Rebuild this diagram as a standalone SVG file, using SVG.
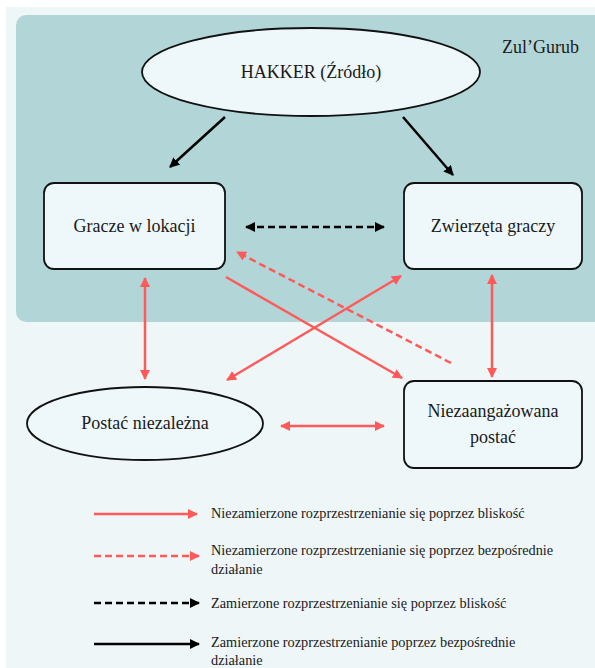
<svg xmlns="http://www.w3.org/2000/svg" width="595" height="668" viewBox="0 0 595 668">
<style>
text{font-family:'Liberation Serif','DejaVu Serif',serif;fill:#1a1a1a}
.n{font-size:18px;text-anchor:middle}
.l{font-size:14.3px}
.box{fill:#eef7f9;stroke:#111;stroke-width:1.8}
.red{stroke:#ff5a5a;stroke-width:2.5;fill:none}
.blk{stroke:#000;stroke-width:2.5;fill:none}
.dash{stroke-dasharray:7 4}
</style>
<defs>
<marker id="ar" viewBox="0 0 10 10" refX="9" refY="5" markerWidth="10" markerHeight="10" markerUnits="userSpaceOnUse" orient="auto-start-reverse"><path d="M0,0 L10,5 L0,10 z" fill="#ff5a5a"/></marker>
<marker id="ab" viewBox="0 0 10 10" refX="9" refY="5" markerWidth="10" markerHeight="10" markerUnits="userSpaceOnUse" orient="auto-start-reverse"><path d="M0,0 L10,5 L0,10 z" fill="#000"/></marker>
</defs>
<rect x="6" y="7" width="600" height="670" fill="#eef6f8"/>
<rect x="16" y="15" width="590" height="307" rx="10" fill="#b2d6d8"/>
<text x="502" y="53" font-size="18">Zul’Gurub</text>

<g id="hakker"><ellipse cx="311" cy="72" rx="169" ry="44" class="box"/><text class="n" x="311" y="78">HAKKER (Źródło)</text></g>
<g id="gracze"><rect x="44" y="183" width="181" height="86" rx="10" class="box"/><text class="n" x="134.5" y="232">Gracze w lokacji</text></g>
<g id="zwierzeta"><rect x="404" y="183" width="178" height="86" rx="10" class="box"/><text class="n" x="493" y="232">Zwierzęta graczy</text></g>
<g id="postac"><ellipse cx="145" cy="423.5" rx="118" ry="36.5" class="box"/><text class="n" x="145" y="429">Postać niezależna</text></g>
<g id="niezaang"><rect x="404" y="381" width="178" height="87" rx="10" class="box"/><text class="n" x="493" y="417">Niezaangażowana</text><text class="n" x="493" y="443">postać</text></g>

<g id="connectors">
<line x1="225" y1="117" x2="170" y2="167" class="blk" marker-end="url(#ab)"/>
<line x1="403" y1="117" x2="453" y2="175" class="blk" marker-end="url(#ab)"/>
<line x1="246" y1="227" x2="384" y2="227" class="blk dash" marker-start="url(#ab)" marker-end="url(#ab)"/>
<line x1="451" y1="363" x2="237" y2="252" class="red dash" marker-end="url(#ar)"/>
<line x1="226" y1="277" x2="402" y2="378" class="red" marker-end="url(#ar)"/>
<line x1="227" y1="380" x2="401" y2="276" class="red" marker-start="url(#ar)" marker-end="url(#ar)"/>
<line x1="145" y1="278" x2="145" y2="379" class="red" marker-start="url(#ar)" marker-end="url(#ar)"/>
<line x1="492" y1="275" x2="492" y2="377" class="red" marker-start="url(#ar)" marker-end="url(#ar)"/>
<line x1="281" y1="426" x2="384" y2="426" class="red" marker-start="url(#ar)" marker-end="url(#ar)"/>
</g>

<g id="legend">
<line x1="94" y1="514" x2="197" y2="514" class="red" marker-end="url(#ar)"/>
<text class="l" x="211" y="518">Niezamierzone rozprzestrzenianie się poprzez bliskość</text>
<line x1="94" y1="556" x2="199" y2="556" class="red dash" marker-end="url(#ar)"/>
<text class="l" x="211" y="555">Niezamierzone rozprzestrzenianie się poprzez bezpośrednie</text>
<text class="l" x="211" y="574">działanie</text>
<line x1="94" y1="603" x2="199" y2="603" class="blk dash" marker-end="url(#ab)"/>
<text class="l" x="211" y="608">Zamierzone rozprzestrzenianie się poprzez bliskość</text>
<line x1="94" y1="644" x2="199" y2="644" class="blk" marker-end="url(#ab)"/>
<text class="l" x="211" y="647">Zamierzone rozprzestrzenianie poprzez bezpośrednie</text>
<text class="l" x="211" y="665">działanie</text>
</g>
</svg>
